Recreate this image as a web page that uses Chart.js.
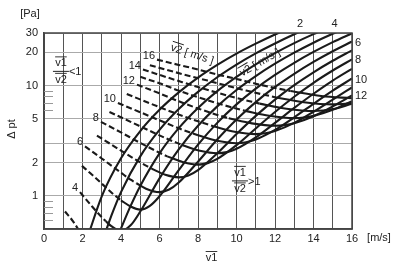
<!DOCTYPE html>
<html><head><meta charset="utf-8">
<script src="https://cdn.jsdelivr.net/npm/chart.js@4"></script>
<style>html,body{margin:0;padding:0;background:#fff}</style>
</head><body>
<canvas id="c" width="400" height="268"></canvas>
<script>
// ---- tick values ----
const xTickValues = [0,1,2,3,4,5,6,7,8,9,10,11,12,13,14,15,16];
const yTickValues = [0.5,1,2,3,5,10,20,30];
const yTickLabels = ['', '1', '2', '', '5', '10', '20', '30'];
const yMinorTicks = [0.6,0.7,0.8,0.9,6,7,8,9];

// ---- solid curves (v2 = 1..16), points [v1, Δpt] ----
const solid1 = [[2.3,0.44],[3,0.99],[4,2.19],[5,3.87],[6,6.03],[7,8.67],[8,11.8],[9,15.4],[10,19.5],[11,24.0],[12,29.1],[12.5,31.8]];
const solid2 = [[3.2,0.47],[3.5,0.66],[4,1.08],[5,2.28],[6,3.96],[7,6.12],[8,8.76],[9,11.9],[10,15.5],[11,19.6],[12,24.1],[13,29.2],[13.5,31.9]];
const solid3 = [[3.9,0.46],[4.5,0.81],[5,1.23],[6,2.43],[7,4.11],[8,6.27],[9,8.91],[10,12.0],[11,15.6],[12,19.7],[13,24.3],[14,29.3],[14.5,31.9]];
const solid4 = [[3.2,0.59],[3.5,0.53],[4,0.48],[4.5,0.54],[5,0.72],[6,1.44],[7,2.64],[8,4.32],[9,6.48],[10,9.12],[11,12.2],[12,15.8],[13,19.9],[14,24.5],[15,29.5],[15.5,32.2]];
const solid5 = [[4,0.91],[4.5,0.80],[5,0.75],[5.5,0.81],[6,0.99],[7,1.71],[8,2.91],[9,4.59],[10,6.75],[11,9.39],[12,12.5],[13,16.1],[14,20.2],[15,24.8],[16,29.8]];
const solid6 = [[4.8,1.30],[5.3,1.16],[6,1.08],[6.5,1.14],[7,1.32],[8,2.04],[9,3.24],[10,4.92],[11,7.08],[12,9.72],[13,12.8],[14,16.4],[15,20.5],[16,25.1]];
const solid7 = [[5.6,1.76],[6.3,1.55],[7,1.47],[7.5,1.53],[8,1.71],[9,2.43],[10,3.63],[11,5.31],[12,7.47],[13,10.1],[14,13.2],[15,16.8],[16,20.9]];
const solid8 = [[6.4,2.28],[7.2,2.03],[8,1.92],[8.5,1.98],[9,2.16],[10,2.88],[11,4.08],[12,5.76],[13,7.92],[14,10.6],[15,13.7],[16,17.3]];
const solid9 = [[7.2,2.88],[8.1,2.56],[9,2.43],[9.5,2.49],[10,2.67],[11,3.39],[12,4.59],[13,6.27],[14,8.43],[15,11.1],[16,14.2]];
const solid10 = [[8,3.54],[9,3.16],[10,3.0],[10.5,3.06],[11,3.24],[12,3.96],[13,5.16],[14,6.84],[15,9.0],[16,11.6]];
const solid11 = [[8.8,4.27],[9.9,3.82],[11,3.63],[11.5,3.69],[12,3.87],[13,4.59],[14,5.79],[15,7.47],[16,9.63]];
const solid12 = [[9.6,5.06],[10.8,4.54],[12,4.32],[12.5,4.38],[13,4.56],[14,5.28],[15,6.48],[16,8.16]];
const solid13 = [[10.4,5.93],[11.7,5.32],[13,5.07],[13.5,5.13],[14,5.31],[15,6.03],[16,7.23]];
const solid14 = [[11.2,6.86],[12.6,6.17],[14,5.88],[14.5,5.94],[15,6.12],[16,6.84]];
const solid15 = [[12,7.85],[13.5,7.07],[15,6.75],[15.5,6.81],[16,6.99]];
const solid16 = [[12.8,8.92],[14.4,8.04],[16,7.68]];

// ---- dashed curves (v1/v2 < 1), v2 = 3..16 ----
const dashed3 = [[1.09,0.72],[1.5,0.59],[2.0,0.43]];
const dashed4 = [[1.87,1.08],[2.5,0.80],[3.0,0.64],[3.2,0.59]];
const dashed5 = [[1.97,1.87],[2.5,1.55],[3,1.29],[3.5,1.07],[4,0.91]];
const dashed6 = [[2.13,2.81],[3,2.18],[3.5,1.88],[4,1.62],[4.5,1.40],[4.8,1.30]];
const dashed7 = [[2.75,3.52],[3,3.31],[4,2.57],[5,2.01],[5.6,1.76]];
const dashed8 = [[2.96,4.69],[4,3.76],[5,3.02],[6,2.46],[6.4,2.28]];
const dashed9 = [[3.4,5.76],[4.5,4.69],[5.5,3.88],[6.5,3.23],[7.2,2.88]];
const dashed10 = [[3.84,6.95],[5,5.73],[6,4.84],[7,4.10],[8,3.54]];
const dashed11 = [[4.3,8.4],[5.5,6.9],[6.5,5.89],[7.5,5.08],[8.8,4.27]];
const dashed12 = [[4.83,10.2],[6,8.5],[7,7.2],[8,6.2],[9,5.42],[9.6,5.06]];
const dashed13 = [[5.0,12.0],[6,10.5],[7,9.0],[8,7.85],[9,6.91],[10.4,5.93]];
const dashed14 = [[5.14,14.0],[6,12.5],[7,11.0],[8,9.7],[9,8.61],[10,7.72],[11.2,6.86]];
const dashed15 = [[5.5,15.3],[6.5,13.7],[7.5,12.3],[8.5,11.1],[9.5,9.98],[10.5,9.01],[12,7.85]];
const dashed16 = [[5.87,17.2],[7,15.4],[8,14.0],[9,12.6],[10,11.5],[11,10.4],[12,9.52],[12.8,8.92]];

const solidSeries = [solid1,solid2,solid3,solid4,solid5,solid6,solid7,solid8,solid9,solid10,solid11,solid12,solid13,solid14,solid15,solid16];
const dashedSeries = [dashed3,dashed4,dashed5,dashed6,dashed7,dashed8,dashed9,dashed10,dashed11,dashed12,dashed13,dashed14,dashed15,dashed16];
const dashedLabels = ['', '4', '', '6', '', '8', '', '10', '', '12', '', '14', '', '16'];
const topLabels = ['2', '4'];
const topLabelV1 = [13.3, 15.1];
const rightLabels = ['6', '8', '10', '12'];
const rightLabelV2 = [6, 8, 10, 12];

const FONT = '"Liberation Sans", Arial, Helvetica, sans-serif';
Chart.defaults.font.family = FONT;
Chart.defaults.font.size = 11;
Chart.defaults.color = '#222';

const toXY = arr => arr.map(p => ({x: p[0], y: p[1]}));
const datasets = [];
dashedSeries.forEach(d => datasets.push({data: toXY(d), borderColor:'#1a1a1a', borderWidth:2.1, borderDash:[6,3], pointRadius:0, showLine:true, cubicInterpolationMode:'monotone', fill:false}));
solidSeries.forEach(d => datasets.push({data: toXY(d), borderColor:'#1a1a1a', borderWidth:2.1, pointRadius:0, showLine:true, cubicInterpolationMode:'monotone', fill:false}));

function ovText(ctx, txt, cx, cy) {
  ctx.textAlign = 'center'; ctx.textBaseline = 'middle';
  ctx.fillText(txt, cx, cy);
  const w = ctx.measureText(txt).width;
  ctx.beginPath(); ctx.lineWidth = 0.9;
  ctx.moveTo(cx - w/2, cy - 6.5); ctx.lineTo(cx + w/2, cy - 6.5); ctx.stroke();
}
function fraction(ctx, cx, cy, rel) {
  ovText(ctx, 'v1', cx, cy - 7.5);
  ctx.beginPath(); ctx.lineWidth = 1; ctx.moveTo(cx - 8, cy + 0.5); ctx.lineTo(cx + 8, cy + 0.5); ctx.stroke();
  ovText(ctx, 'v2', cx, cy + 9);
  ctx.textAlign = 'left'; ctx.fillText(rel, cx + 8, cy + 1.5);
}
function rotLabel(ctx, cx, cy, ang) {
  ctx.save(); ctx.translate(cx, cy); ctx.rotate(ang * Math.PI / 180);
  const w1 = ctx.measureText('v2').width, w2 = ctx.measureText(' [ m/s ]').width;
  const x0 = -(w1 + w2) / 2;
  ctx.textAlign = 'left'; ctx.textBaseline = 'middle';
  ctx.fillText('v2', x0, 0);
  ctx.beginPath(); ctx.lineWidth = 0.9; ctx.moveTo(x0, -6.5); ctx.lineTo(x0 + w1, -6.5); ctx.stroke();
  ctx.fillText(' [ m/s ]', x0 + w1, 0);
  ctx.restore();
}

const annot = {
  id: 'annot',
  afterDraw(chart) {
    const {ctx, chartArea: a, scales: {x, y}} = chart;
    ctx.save();
    ctx.strokeStyle = '#444'; ctx.lineWidth = 1.5;
    ctx.strokeRect(a.left, a.top, a.right - a.left, a.bottom - a.top);
    ctx.strokeStyle = '#999'; ctx.lineWidth = 1;
    yMinorTicks.forEach(v => { const py = Math.round(y.getPixelForValue(v)) + 0.5; ctx.beginPath(); ctx.moveTo(a.left, py); ctx.lineTo(a.left + 9, py); ctx.stroke(); });
    ctx.fillStyle = '#222'; ctx.strokeStyle = '#222';
    ctx.font = '11px ' + FONT;
    // dashed curve labels
    ctx.textAlign = 'right'; ctx.textBaseline = 'middle';
    dashedSeries.forEach((d, i) => { const t = dashedLabels[i]; if (!t) return; ctx.fillText(t, x.getPixelForValue(d[0][0]) - 2, y.getPixelForValue(d[0][1]) - 4); });
    // top labels
    ctx.textAlign = 'center';
    topLabels.forEach((t, i) => ctx.fillText(t, x.getPixelForValue(topLabelV1[i]), a.top - 9));
    // right labels
    ctx.textAlign = 'left';
    rightLabels.forEach((t, i) => { const s = solidSeries[rightLabelV2[i] - 1]; const last = s[s.length - 1]; ctx.fillText(t, a.right + 3, y.getPixelForValue(last[1]) + 1); });
    // fractions
    fraction(ctx, x.getPixelForValue(0.88), y.getPixelForValue(13.6), '<1');
    fraction(ctx, x.getPixelForValue(10.18), y.getPixelForValue(1.38), '>1');
    // rotated v2 labels
    rotLabel(ctx, x.getPixelForValue(7.69), y.getPixelForValue(19.2), 18);
    rotLabel(ctx, x.getPixelForValue(11.22), y.getPixelForValue(16.1), -30);
    // axis units / titles
    ctx.textAlign = 'center'; ctx.textBaseline = 'middle';
    ctx.fillText('[Pa]', a.left - 14, a.top - 19);
    ctx.fillText('[m/s]', a.right + 27, a.bottom + 9);
    ovText(ctx, 'v1', x.getPixelForValue(8.7), a.bottom + 29);
    ctx.save(); ctx.translate(12, (a.top + a.bottom) / 2 - 2); ctx.rotate(-Math.PI / 2);
    ctx.fillText('Δ pt', 0, 0); ctx.restore();
    ctx.restore();
  }
};

new Chart(document.getElementById('c'), {
  type: 'scatter',
  data: {datasets},
  options: {
    responsive: false, animation: false, devicePixelRatio: 1,
    layout: {padding: {top: 33, right: 48, left: 0, bottom: 0}},
    plugins: {legend: {display: false}, tooltip: {enabled: false}},
    scales: {
      x: {
        type: 'linear', min: 0, max: 16,
        afterBuildTicks: s => { s.ticks = xTickValues.map(v => ({value: v})); },
        afterFit: s => { s.height = 39; },
        ticks: {callback: v => (v % 2 === 0 ? String(v) : ''), autoSkip: false, maxRotation: 0, padding: 3, color: '#222', font: {size: 11}},
        grid: {color: '#555', lineWidth: 1, drawTicks: false},
        border: {color: '#444', width: 1.5}
      },
      y: {
        type: 'logarithmic', min: 0.5, max: 30,
        afterBuildTicks: s => { s.ticks = yTickValues.map(v => ({value: v})); },
        afterFit: s => { s.width = 44; },
        ticks: {callback: (v, i) => yTickLabels[i], autoSkip: false, padding: 6, color: '#222', font: {size: 11}},
        grid: {color: '#aaa', lineWidth: 1, drawTicks: false},
        border: {color: '#444', width: 1.5}
      }
    }
  },
  plugins: [annot]
});
</script>
</body></html>
